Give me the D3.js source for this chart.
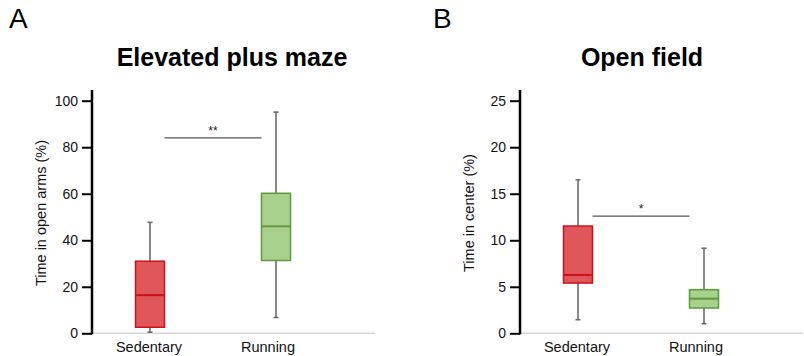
<!DOCTYPE html>
<html>
<head>
<meta charset="utf-8">
<script src="https://cdn.jsdelivr.net/npm/d3@7"></script>
<style>
body { margin: 0; background: #fff; }
svg { font-family: "Liberation Sans", Arial, Helvetica, sans-serif; }
</style>
</head>
<body>
<svg id="chart" width="804" height="356"></svg>
<script>
var groups = ["Sedentary", "Running"];

// box stats: [min, q1, median, q3, max]
var epmStats = [[0.5, 2.6, 16.4, 31, 47.7], [6.8, 31.3, 46, 60.2, 95.1]];
var ofStats = [[1.46, 5.4, 6.27, 11.53, 16.5], [1.03, 2.72, 3.72, 4.69, 9.14]];

var epmTicks = [0, 20, 40, 60, 80, 100];
var ofTicks = [0, 5, 10, 15, 20, 25];

var epmSig = {label: "**", y: 84};
var ofSig = {label: "*", y: 12.6};

var fills = ["#e0565a", "#a9d18e"];
var strokes = ["#c9141b", "#5e9a3b"];

var svg = d3.select("#chart");

var drawPanel = function(opts)
{
    var g = svg.append("g").attr("transform", "translate(" + opts.left + ",0)");

    var yScale = d3.scaleLinear()
        .domain(opts.domain)
        .range([333.3, 100.7]);

    var xBox = d3.scalePoint().domain(groups).range([58, 184]);
    var xLabel = d3.scalePoint().domain(groups).range([57, 176]);

    // grey baseline
    g.append("line")
        .attr("x1", 0).attr("x2", 283)
        .attr("y1", yScale(0)).attr("y2", yScale(0))
        .attr("stroke", "#d6d6d6").attr("stroke-width", 1.5);

    var yAxis = d3.axisLeft(yScale).tickValues(opts.ticks).tickSize(10).tickPadding(4);
    var ax = g.append("g").call(yAxis);
    ax.select(".domain").remove();
    ax.selectAll(".tick line").attr("stroke", "#000").attr("stroke-width", 2);
    ax.selectAll(".tick text").attr("font-size", 14).attr("fill", "#111");
    g.append("line")
        .attr("x1", 0).attr("x2", 0)
        .attr("y1", 90).attr("y2", yScale(0) + 1)
        .attr("stroke", "#000").attr("stroke-width", 2.5);

    g.append("text")
        .attr("transform", "translate(" + (-46) + "," + 213 + ") rotate(-90)")
        .attr("text-anchor", "middle")
        .attr("font-size", 14.5)
        .attr("fill", "#111")
        .text(opts.yLabel);

    var bw = 29;
    var boxes = g.selectAll("g.box")
        .data(opts.stats)
        .enter()
        .append("g")
        .attr("class", "box");

    boxes.append("line")
        .attr("x1", function(d, i) { return xBox(groups[i]); })
        .attr("x2", function(d, i) { return xBox(groups[i]); })
        .attr("y1", function(d) { return yScale(d[0]); })
        .attr("y2", function(d) { return yScale(d[4]); })
        .attr("stroke", "#6b6b6b").attr("stroke-width", 1.6);

    [0, 4].forEach(function(k) {
        boxes.append("line")
            .attr("x1", function(d, i) { return xBox(groups[i]) - 2.5; })
            .attr("x2", function(d, i) { return xBox(groups[i]) + 2.5; })
            .attr("y1", function(d) { return yScale(d[k]); })
            .attr("y2", function(d) { return yScale(d[k]); })
            .attr("stroke", "#6b6b6b").attr("stroke-width", 1.6);
    });

    boxes.append("rect")
        .attr("x", function(d, i) { return xBox(groups[i]) - bw / 2; })
        .attr("width", bw)
        .attr("y", function(d) { return yScale(d[3]); })
        .attr("height", function(d) { return yScale(d[1]) - yScale(d[3]); })
        .attr("fill", function(d, i) { return fills[i]; })
        .attr("stroke", function(d, i) { return strokes[i]; })
        .attr("stroke-width", 1.5);

    boxes.append("line")
        .attr("x1", function(d, i) { return xBox(groups[i]) - bw / 2; })
        .attr("x2", function(d, i) { return xBox(groups[i]) + bw / 2; })
        .attr("y1", function(d) { return yScale(d[2]); })
        .attr("y2", function(d) { return yScale(d[2]); })
        .attr("stroke", function(d, i) { return strokes[i]; })
        .attr("stroke-width", 2);

    g.selectAll("text.cat")
        .data(groups)
        .enter()
        .append("text")
        .attr("class", "cat")
        .attr("x", function(d) { return xLabel(d); })
        .attr("y", 352)
        .attr("text-anchor", "middle")
        .attr("font-size", 14.5)
        .attr("fill", "#111")
        .text(function(d) { return d; });

    // significance bar
    var sx1 = xBox(groups[0]) + bw / 2;
    var sx2 = xBox(groups[1]) - bw / 2;
    g.append("line")
        .attr("x1", sx1).attr("x2", sx2)
        .attr("y1", yScale(opts.sig.y)).attr("y2", yScale(opts.sig.y))
        .attr("stroke", "#555").attr("stroke-width", 1.2);
    g.append("text")
        .attr("x", (sx1 + sx2) / 2)
        .attr("y", yScale(opts.sig.y) - 3)
        .attr("text-anchor", "middle")
        .attr("font-size", 12)
        .attr("fill", "#222")
        .text(opts.sig.label);

    g.append("text")
        .attr("x", opts.titleX)
        .attr("y", 66)
        .attr("text-anchor", "middle")
        .attr("font-size", 25)
        .attr("font-weight", "bold")
        .attr("fill", "#000")
        .text(opts.title);

    svg.append("text")
        .attr("x", opts.letterX)
        .attr("y", 28)
        .attr("font-size", 28)
        .attr("fill", "#000")
        .text(opts.letter);
};

drawPanel({left: 92, domain: [0, 100], ticks: epmTicks, stats: epmStats, sig: epmSig,
    yLabel: "Time in open arms (%)", title: "Elevated plus maze", titleX: 140, letter: "A", letterX: 9});
drawPanel({left: 520, domain: [0, 25], ticks: ofTicks, stats: ofStats, sig: ofSig,
    yLabel: "Time in center (%)", title: "Open field", titleX: 122, letter: "B", letterX: 433});
</script>
</body>
</html>
